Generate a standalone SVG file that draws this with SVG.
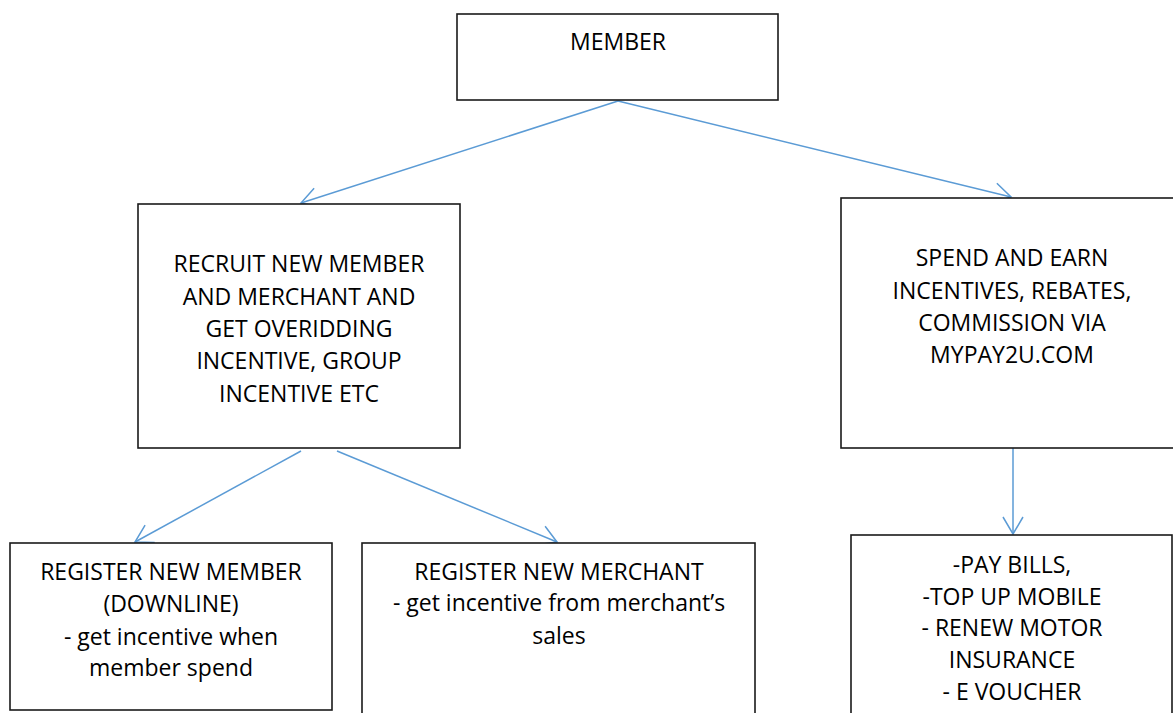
<svg xmlns="http://www.w3.org/2000/svg" width="1173" height="713" viewBox="0 0 1173 713">
<style>
.box{fill:#ffffff;stroke:#1a1a1a;stroke-width:1.6}
.lbl{font-family:"Open Sans","Liberation Sans",sans-serif;font-size:23px;fill:#000000;text-anchor:middle}
.con{stroke:#5b9bd5;stroke-width:1.5;fill:none;marker-end:url(#arr)}
</style>
<defs>
<marker id="arr" markerUnits="userSpaceOnUse" markerWidth="20" markerHeight="24" viewBox="0 0 20 24" refX="18" refY="12" orient="auto">
<path d="M1,2 L18,12 L1,22" fill="none" stroke="#5b9bd5" stroke-width="1.5"/>
</marker>
</defs>
<rect width="1173" height="713" fill="#ffffff"/>
<g id="connectors">
<line class="con" x1="618" y1="101" x2="301" y2="203"/>
<line class="con" x1="618" y1="101" x2="1011" y2="197"/>
<line class="con" x1="301" y1="451" x2="135" y2="542"/>
<line class="con" x1="337" y1="451" x2="557" y2="542"/>
<line class="con" x1="1013" y1="448" x2="1013" y2="534"/>
</g>
<g id="member">
<rect class="box" x="457" y="14" width="321" height="86"/>
<text class="lbl" x="618" y="50">MEMBER</text>
</g>
<g id="recruit">
<rect class="box" x="138" y="204" width="322" height="244"/>
<text class="lbl" x="299" y="272">RECRUIT NEW MEMBER</text>
<text class="lbl" x="299" y="304.5">AND MERCHANT AND</text>
<text class="lbl" x="299" y="337">GET OVERIDDING</text>
<text class="lbl" x="299" y="369">INCENTIVE, GROUP</text>
<text class="lbl" x="299" y="401.5">INCENTIVE ETC</text>
</g>
<g id="spend">
<rect class="box" x="841" y="198" width="345" height="250"/>
<text class="lbl" x="1012" y="266">SPEND AND EARN</text>
<text class="lbl" x="1012" y="298.5">INCENTIVES, REBATES,</text>
<text class="lbl" x="1012" y="331">COMMISSION VIA</text>
<text class="lbl" x="1012" y="363">MYPAY2U.COM</text>
</g>
<g id="register-member">
<rect class="box" x="10" y="543" width="322" height="167"/>
<text class="lbl" x="171" y="580">REGISTER NEW MEMBER</text>
<text class="lbl" x="171" y="612">(DOWNLINE)</text>
<text class="lbl" x="171" y="644.5">- get incentive when</text>
<text class="lbl" x="171" y="676">member spend</text>
</g>
<g id="register-merchant">
<rect class="box" x="362" y="543" width="393" height="180"/>
<text class="lbl" x="559" y="579.5">REGISTER NEW MERCHANT</text>
<text class="lbl" x="559" y="611">- get incentive from merchant’s</text>
<text class="lbl" x="559" y="643.5">sales</text>
</g>
<g id="services">
<rect class="box" x="851" y="535" width="321" height="190"/>
<text class="lbl" x="1012" y="572.7">-PAY BILLS,</text>
<text class="lbl" x="1012" y="604.5">-TOP UP MOBILE</text>
<text class="lbl" x="1012" y="636">- RENEW MOTOR</text>
<text class="lbl" x="1012" y="668">INSURANCE</text>
<text class="lbl" x="1012" y="700">- E VOUCHER</text>
</g>
</svg>
